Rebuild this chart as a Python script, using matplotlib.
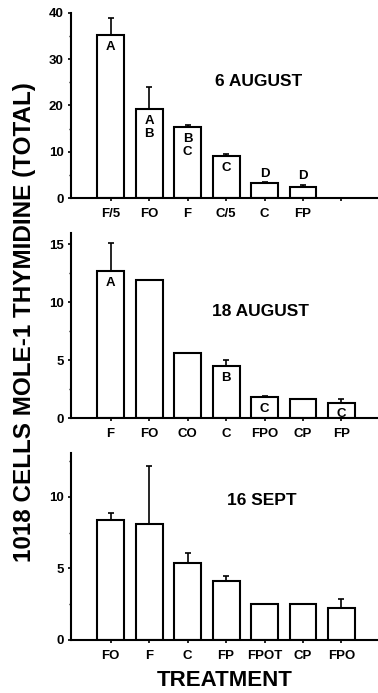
import numpy as np
import matplotlib
matplotlib.use("Agg")
import matplotlib.pyplot as plt
from matplotlib.ticker import MultipleLocator

plt.rcParams["font.family"] = ["Liberation Sans", "DejaVu Sans"]
plt.rcParams["font.weight"] = "bold"

# 6 August
aug6_labels = ["F/5", "FO", "F", "C/5", "C", "FP"]
aug6_vals = [35.1, 19.2, 15.3, 9.1, 3.2, 2.5]
aug6_err = [3.8, 4.7, 0.5, 0.5, 0.2, 0.3]
aug6_letters = ["A", "A\nB", "B\nC", "C", "D", "D"]
aug6_inside = [True, True, True, True, False, False]

# 18 August
aug18_labels = ["F", "FO", "CO", "C", "FPO", "CP", "FP"]
aug18_vals = [12.7, 11.9, 5.6, 4.5, 1.8, 1.7, 1.35]
aug18_err = [2.4, 0, 0, 0.5, 0.1, 0, 0.3]
aug18_letters = ["A", "", "", "B", "C", "", "C"]
aug18_inside = [True, True, True, True, True, True, True]

# 16 Sept
sep16_labels = ["FO", "F", "C", "FP", "FPOT", "CP", "FPO"]
sep16_vals = [8.4, 8.1, 5.35, 4.1, 2.5, 2.5, 2.25]
sep16_err = [0.5, 4.1, 0.75, 0.4, 0, 0, 0.65]

fig = plt.figure(figsize=(3.78, 6.93), dpi=100)


def panel(rect, labels, vals, err, ymax, major, title, tpos, letters=None, inside=None):
    ax = fig.add_axes(rect)
    x = np.arange(1, len(vals) + 1)
    ax.bar(x, vals, width=0.7, color="white", edgecolor="black", linewidth=1.5, zorder=2)
    up = np.array(err)
    ax.errorbar(x, vals, yerr=[np.zeros_like(up), up], fmt="none", ecolor="black",
                elinewidth=1.2, capsize=2, capthick=1.2, zorder=1)
    ax.set_xlim(-0.03, 7.95)
    ax.set_ylim(0, ymax)
    ax.set_xticks(np.arange(1, 8))
    ax.set_xticklabels(labels + [""] * (7 - len(labels)), fontsize=9.5, fontweight="bold")
    ax.yaxis.set_major_locator(MultipleLocator(major))
    ax.yaxis.set_minor_locator(MultipleLocator(major / 2))
    for lab in ax.get_yticklabels():
        lab.set_fontsize(9.5)
        lab.set_fontweight("bold")
    ax.tick_params(axis="both", which="major", length=2.5, width=1.2, pad=3)
    ax.tick_params(axis="y", which="minor", length=1.5, width=1)
    ax.tick_params(axis="x", pad=4.5)
    for s in ["top", "right"]:
        ax.spines[s].set_visible(False)
    for s in ["left", "bottom"]:
        ax.spines[s].set_linewidth(1.5)
    ax.text(tpos[0], tpos[1], title, transform=ax.transAxes, ha="center", va="center",
            fontsize=12.5, fontweight="bold")
    if letters:
        for xi, v, e, t, ins in zip(x, vals, err, letters, inside):
            if not t:
                continue
            if ins:
                ax.annotate(t, (xi, v), xytext=(0, -4), textcoords="offset points",
                            ha="center", va="top", fontsize=9.5, fontweight="bold",
                            linespacing=1.1, zorder=3)
            else:
                ax.annotate(t, (xi, v + e), xytext=(0, 2), textcoords="offset points",
                            ha="center", va="bottom", fontsize=9.5, fontweight="bold", zorder=3)
    return ax


panel([0.188, 0.7139, 0.812, 0.2678], aug6_labels, aug6_vals, aug6_err, 40, 10,
      "6 AUGUST", (0.612, 0.627), aug6_letters, aug6_inside)
panel([0.188, 0.3964, 0.812, 0.2678], aug18_labels, aug18_vals, aug18_err, 16, 5,
      "18 AUGUST", (0.616, 0.574), aug18_letters, aug18_inside)
panel([0.188, 0.0765, 0.812, 0.2703], sep16_labels, sep16_vals, sep16_err, 13.1, 5,
      "16 SEPT", (0.62, 0.747))

fig.text(225 / 378, 1 - 681 / 693, "TREATMENT", ha="center", va="center",
         fontsize=16, fontweight="bold")
fig.text(25 / 378, 1 - 322 / 693, "1018 CELLS MOLE-1 THYMIDINE (TOTAL)", rotation=90,
         ha="center", va="center", fontsize=17.5, fontweight="bold")

fig.savefig("out.png", dpi=100)
